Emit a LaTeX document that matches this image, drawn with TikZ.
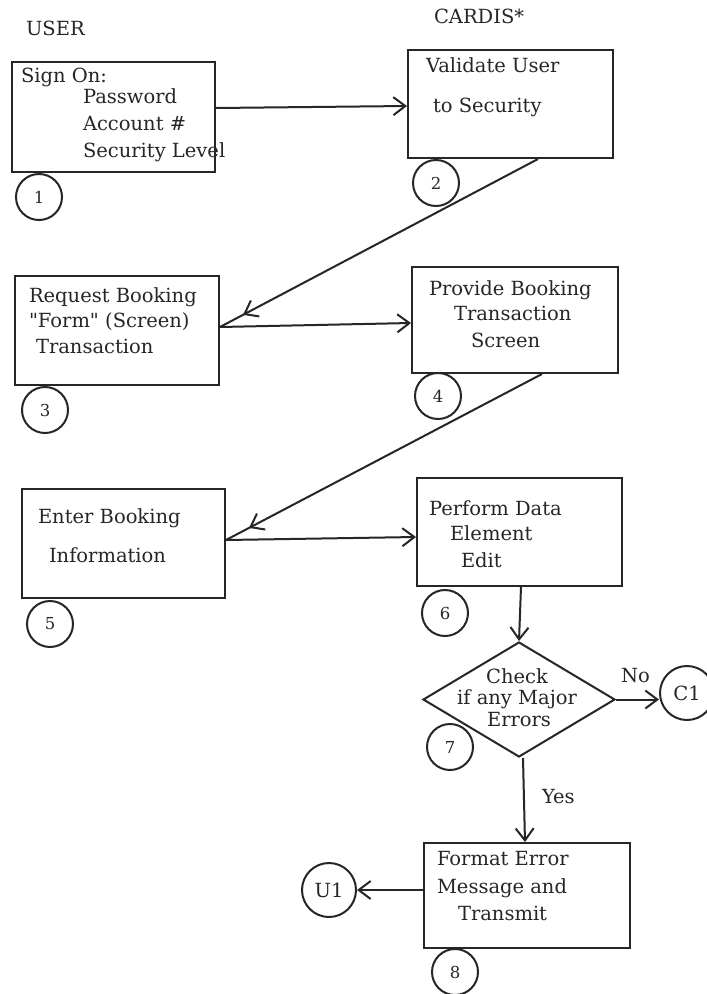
\documentclass[tikz,border=0pt]{standalone}
\usepackage{fontspec}
\setmainfont{DejaVu Serif}
\usetikzlibrary{arrows.meta,shapes.geometric,decorations.markings}
\definecolor{ink}{HTML}{262626}
% straight double quote, set as a glyph so no quote ligature applies
\newcommand\straightdq{\XeTeXglyph\XeTeXcharglyph"22\relax}
\begin{document}
\begin{tikzpicture}[x=1pt,y=-1pt,
  line width=2pt, draw=ink,
  box/.style={draw=ink, rectangle, inner sep=0pt},
  lbl/.style={anchor=base west, inner sep=0pt, text=ink, font=\fontsize{19.5}{23}\selectfont},
  clbl/.style={lbl, anchor=base},
  num/.style={draw=ink, circle, inner sep=0pt, minimum size=46pt, text=ink, font=\fontsize{16.5}{19}\selectfont},
  conn/.style={draw=ink, circle, inner sep=0pt, minimum size=54pt, text=ink, font=\fontsize{19.5}{23}\selectfont},
  arr/.style={draw=ink, -{Straight Barb[length=12pt,width=18pt]}},
  midarr/.style={draw=ink, decoration={markings,
      mark=at position -26pt with {\arrow{Straight Barb[length=12pt,width=18pt]}}},
      postaction={decorate}}
]
\path[use as bounding box, fill=white] (0,0) rectangle (707,994);

% column headings
\node[lbl] (hUser) at (25,35) {USER};
\node[lbl] (hCardis) at (433,23) {CARDIS*};

% process boxes
\node[box, minimum width=203pt, minimum height=110pt] (b1) at (113.5,117) {};
\node[box, minimum width=205pt, minimum height=108pt] (b2) at (510.5,104) {};
\node[box, minimum width=204pt, minimum height=109pt] (b3) at (117,330.5) {};
\node[box, minimum width=206pt, minimum height=106pt] (b4) at (515,320) {};
\node[box, minimum width=203pt, minimum height=109pt] (b5) at (123.5,543.5) {};
\node[box, minimum width=205pt, minimum height=108pt] (b6) at (519.5,532) {};
\node[draw=ink, diamond, inner sep=0pt, minimum width=192pt, minimum height=115pt] (d7) at (519,699.5) {};
\node[box, minimum width=206pt, minimum height=105pt] (b8) at (527,895.5) {};

% box texts
\node[lbl] (t1a) at (20,82) {Sign On:};
\node[lbl] (t1b) at (82,103) {Password};
\node[lbl] (t1c) at (82,130) {Account \#};
\node[lbl] (t1d) at (82,157) {Security Level};

\node[lbl] (t2a) at (425,72) {Validate User};
\node[lbl] (t2b) at (432,112) {to Security};

\node[lbl] (t3a) at (28,302) {Request Booking};
\node[lbl] (t3b) at (28,327) {\straightdq Form\straightdq{} (Screen)};
\node[lbl] (t3c) at (35,353) {Transaction};

\node[lbl] (t4a) at (428,295) {Provide Booking};
\node[lbl] (t4b) at (453,320) {Transaction};
\node[lbl] (t4c) at (470,347) {Screen};

\node[lbl] (t5a) at (37,523) {Enter Booking};
\node[lbl] (t5b) at (48,562) {Information};

\node[lbl] (t6a) at (428,515) {Perform Data};
\node[lbl] (t6b) at (449,540) {Element};
\node[lbl] (t6c) at (460,567) {Edit};

\node[clbl] (t7a) at (517,683) {Check};
\node[clbl] (t7b) at (517,704) {if any Major};
\node[clbl] (t7c) at (519,726) {Errors};

\node[lbl] (t8a) at (436,865) {Format Error};
\node[lbl] (t8b) at (436,893) {Message and};
\node[lbl] (t8c) at (457,920) {Transmit};

% step numbers
\node[num] (n1) at (39,197) {1};
\node[num] (n2) at (436,183) {2};
\node[num] (n3) at (45,410) {3};
\node[num] (n4) at (438,396) {4};
\node[num] (n5) at (50,624) {5};
\node[num] (n6) at (445,613) {6};
\node[num] (n7) at (450,747) {7};
\node[num] (n8) at (455,972) {8};

% off-page connectors
\node[conn] (c1) at (687,693) {C1};
\node[conn] (u1) at (329,890) {U1};

% flow lines
\draw[arr] ([yshift=9pt]b1.east) -- ([yshift=-2pt]b2.west);
\draw[midarr] ([xshift=27.5pt]b2.south) -- ([yshift=3.5pt]b3.east);
\draw[arr] ([yshift=3.5pt]b3.east) -- ([yshift=-3pt]b4.west);
\draw[midarr] ([xshift=27pt]b4.south) -- ([yshift=3.5pt]b5.east);
\draw[arr] ([yshift=3.5pt]b5.east) -- ([yshift=-5pt]b6.west);
\draw[arr] ([xshift=1.5pt]b6.south) -- (d7.north);
\draw[arr] (d7.east) -- (d7.east -| c1.west);
\draw[arr] ([xshift=4pt]d7.south) -- ([xshift=-2pt]b8.north);
\draw[arr] ([yshift=5.5pt]b8.west) -- (u1.east);

% branch labels
\node[lbl] (lNo) at (620,682) {No};
\node[lbl] (lYes) at (541,803) {Yes};
\end{tikzpicture}
\end{document}
